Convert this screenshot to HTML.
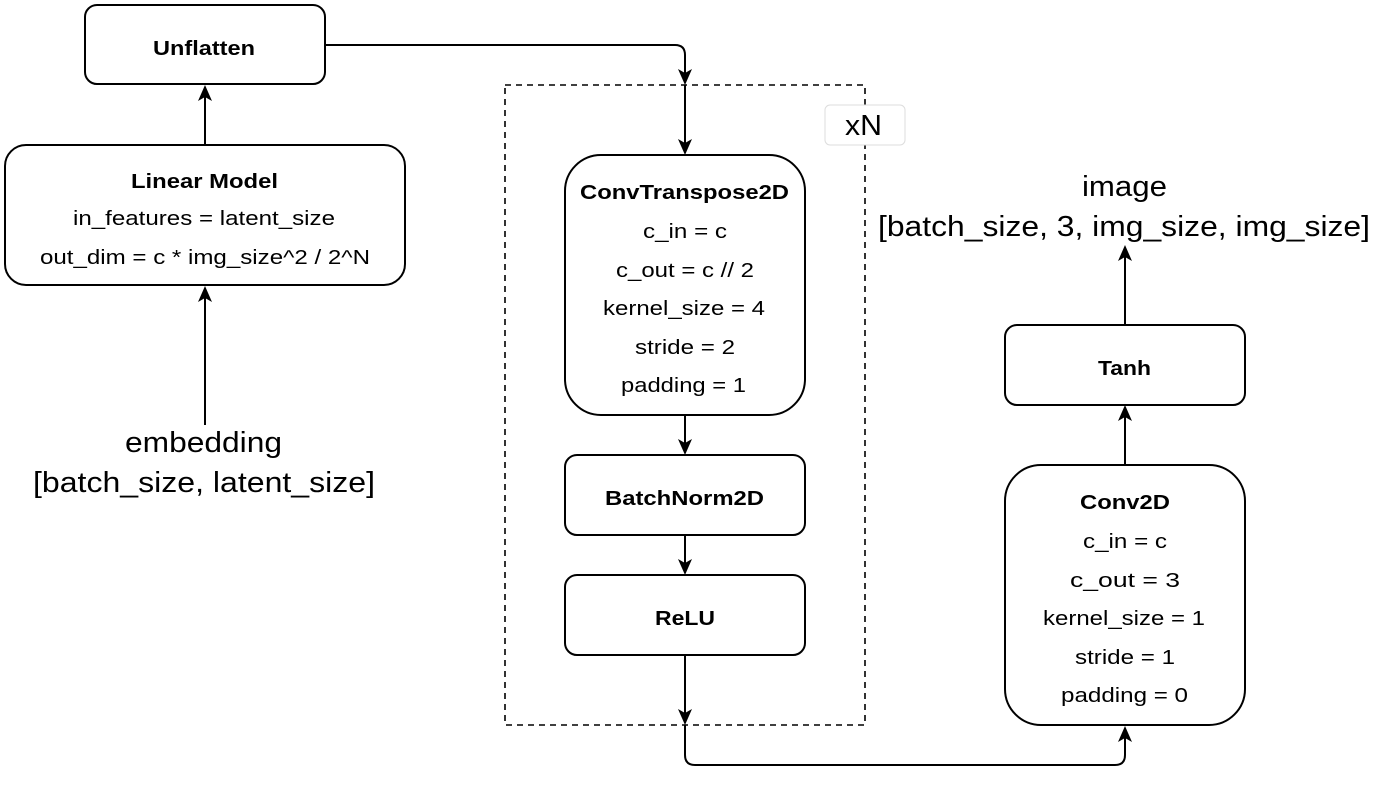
<!DOCTYPE html>
<html><head><style>body{margin:0;background:#fff}svg{display:block}text{font-family:"Liberation Sans",Arial,sans-serif;fill:#000}</style></head><body>
<svg width="1380" height="786" viewBox="0 0 1380 786" xmlns="http://www.w3.org/2000/svg">
<g fill="none" stroke="#000" stroke-width="2">
<rect x="505" y="85" width="360" height="640" stroke-dasharray="6,5" stroke-width="1.6"/>
<rect x="85" y="5" width="240" height="79" rx="12"/>
<rect x="5" y="145" width="400" height="140" rx="21"/>
<rect x="565" y="155" width="240" height="260" rx="36"/>
<rect x="565" y="455" width="240" height="80" rx="12"/>
<rect x="565" y="575" width="240" height="80" rx="12"/>
<rect x="1005" y="465" width="240" height="260" rx="36"/>
<rect x="1005" y="325" width="240" height="80" rx="12"/>
<path d="M205 145 V90"/>
<path d="M205 425 V291"/>
<path d="M325 45 H675 Q685 45 685 55 V80"/>
<path d="M685 85 V150"/>
<path d="M685 415 V450"/>
<path d="M685 535 V570"/>
<path d="M685 655 V720"/>
<path d="M685 725 V755 Q685 765 695 765 H1115 Q1125 765 1125 755 V731"/>
<path d="M1125 465 V411"/>
<path d="M1125 325 V251"/>
</g>
<g fill="#000">
<path d="M205 85 l-7 16 l7 -4 l7 4 z"/>
<path d="M205 286 l-7 16 l7 -4 l7 4 z"/>
<path d="M1125 405 l-7 16 l7 -4 l7 4 z"/>
<path d="M1125 245 l-7 16 l7 -4 l7 4 z"/>
<path d="M1125 726 l-7 16 l7 -4 l7 4 z"/>
<path d="M685 85 l-7 -16 l7 4 l7 -4 z"/>
<path d="M685 155 l-7 -16 l7 4 l7 -4 z"/>
<path d="M685 455 l-7 -16 l7 4 l7 -4 z"/>
<path d="M685 575 l-7 -16 l7 4 l7 -4 z"/>
<path d="M685 725 l-7 -16 l7 4 l7 -4 z"/>
</g>
<rect x="825" y="105" width="80" height="40" rx="5" fill="#fff" stroke="#ddd" stroke-width="1"/>
<text x="845" y="135" font-size="29" textLength="37" lengthAdjust="spacingAndGlyphs">xN</text>
<g font-size="20" lengthAdjust="spacingAndGlyphs">
<text x="153" y="55" font-weight="bold" textLength="102" lengthAdjust="spacingAndGlyphs">Unflatten</text>
<text x="131" y="188" font-weight="bold" textLength="147" lengthAdjust="spacingAndGlyphs">Linear Model</text>
<text x="73" y="225" textLength="262" lengthAdjust="spacingAndGlyphs">in_features = latent_size</text>
<text x="40" y="264" textLength="330" lengthAdjust="spacingAndGlyphs">out_dim = c * img_size^2 / 2^N</text>
<text x="580" y="199" font-weight="bold" textLength="209" lengthAdjust="spacingAndGlyphs">ConvTranspose2D</text>
<text x="643" y="238" textLength="84" lengthAdjust="spacingAndGlyphs">c_in = c</text>
<text x="616" y="277" textLength="138" lengthAdjust="spacingAndGlyphs">c_out = c // 2</text>
<text x="603" y="315" textLength="162" lengthAdjust="spacingAndGlyphs">kernel_size = 4</text>
<text x="635" y="354" textLength="100" lengthAdjust="spacingAndGlyphs">stride = 2</text>
<text x="621" y="392" textLength="125" lengthAdjust="spacingAndGlyphs">padding = 1</text>
<text x="605" y="505" font-weight="bold" textLength="159" lengthAdjust="spacingAndGlyphs">BatchNorm2D</text>
<text x="655" y="625" font-weight="bold" textLength="60" lengthAdjust="spacingAndGlyphs">ReLU</text>
<text x="1098" y="375" font-weight="bold" textLength="53" lengthAdjust="spacingAndGlyphs">Tanh</text>
<text x="1080" y="509" font-weight="bold" textLength="90" lengthAdjust="spacingAndGlyphs">Conv2D</text>
<text x="1083" y="548" textLength="84" lengthAdjust="spacingAndGlyphs">c_in = c</text>
<text x="1070" y="587" textLength="110" lengthAdjust="spacingAndGlyphs">c_out = 3</text>
<text x="1043" y="625" textLength="162" lengthAdjust="spacingAndGlyphs">kernel_size = 1</text>
<text x="1075" y="664" textLength="100" lengthAdjust="spacingAndGlyphs">stride = 1</text>
<text x="1061" y="702" textLength="127" lengthAdjust="spacingAndGlyphs">padding = 0</text>
</g>
<g font-size="29">
<text x="125" y="452" textLength="157" lengthAdjust="spacingAndGlyphs">embedding</text>
<text x="33" y="492" textLength="342" lengthAdjust="spacingAndGlyphs">[batch_size, latent_size]</text>
<text x="1082" y="196" textLength="85" lengthAdjust="spacingAndGlyphs">image</text>
<text x="878" y="236" textLength="492" lengthAdjust="spacingAndGlyphs">[batch_size, 3, img_size, img_size]</text>
</g>
</svg>
</body></html>
